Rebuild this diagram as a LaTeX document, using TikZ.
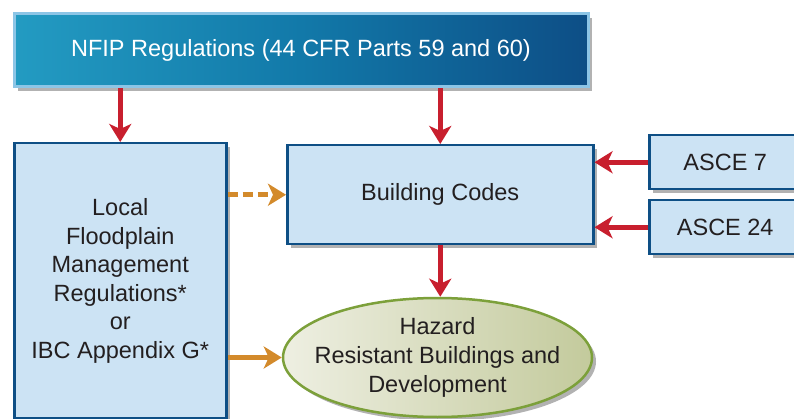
\documentclass[tikz,border=0pt]{standalone}
\usepackage{fontspec}
\setmainfont{Liberation Sans}
\usetikzlibrary{arrows.meta,shapes.geometric,shadows}
\definecolor{boxfill}{HTML}{CCE3F4}
\definecolor{boxline}{HTML}{0E4F85}
\definecolor{nfipline}{HTML}{8CC5E6}
\definecolor{nfipL}{HTML}{239BC2}
\definecolor{nfipM}{HTML}{1279A9}
\definecolor{nfipR}{HTML}{0D4E86}
\definecolor{ellL}{HTML}{EEEFE2}
\definecolor{ellR}{HTML}{C3CA9C}
\definecolor{ellline}{HTML}{7CA03A}
\definecolor{arrred}{HTML}{C81F2E}
\definecolor{arrorange}{HTML}{D38A2B}
\definecolor{txt}{HTML}{231F20}
\tikzset{
  shad/.style={drop shadow={shadow xshift=4pt, shadow yshift=-4pt, opacity=0.3, fill=black}},
  box/.style={draw=boxline, line width=2.5pt, fill=boxfill, text=txt,
    font=\fontsize{23.5}{28.5}\selectfont, align=center, inner sep=0pt, shad},
  redarrow/.style={draw=arrred, line width=5pt, -{Stealth[length=18pt,width=22pt,inset=5pt]}},
  orangearrow/.style={draw=arrorange, line width=5pt, -{Stealth[length=18pt,width=22pt,inset=5pt]}},
}
\begin{document}
\begin{tikzpicture}[x=1pt,y=-1pt]
\useasboundingbox (0,0) rectangle (794,419);
\node[draw=nfipline, line width=3pt, left color=nfipL, right color=nfipR, middle color=nfipM,
  text=white, font=\fontsize{23.5}{28}\selectfont, minimum width=574, minimum height=73,
  inner sep=0pt, shad] (nfip) at (301,50.5) {NFIP Regulations (44 CFR Parts 59 and 60)};
\node[box, minimum width=212, minimum height=275, anchor=north west] (local) at (13,142)
  {Local\\Floodplain\\Management\\Regulations*\\or\\IBC Appendix G*};
\node[box, minimum width=306, minimum height=99, anchor=north west] (bc) at (286,144) {Building Codes};
\node[box, minimum width=152, minimum height=54, anchor=north west] (a7) at (648,134) {ASCE 7};
\node[box, minimum width=152, minimum height=54, anchor=north west] (a24) at (648,199) {ASCE 24};
\node[ellipse, draw=ellline, line width=2.5pt, left color=ellL, right color=ellR,
  minimum width=309, minimum height=119, inner sep=0pt, shad] (haz) at (437.5,357.5) {};
\node[align=center, text=txt, inner sep=0pt, font=\fontsize{23.5}{29}\selectfont]
  (hazt) at (haz.center) {Hazard\\Resistant Buildings and\\Development};
\draw[redarrow] (local.north |- nfip.south) -- (local.north);
\draw[redarrow] (bc.north |- nfip.south) -- (bc.north);
\draw[redarrow] (a7.west) -- (a7.west -| bc.east);
\draw[redarrow] (a24.west) -- (a24.west -| bc.east);
\draw[redarrow] (bc.south) -- (bc.south |- haz.north);
\draw[orangearrow, dash pattern=on 10pt off 5pt] (local.east |- bc.west) -- (bc.west);
\draw[orangearrow] (local.east |- haz.west) -- (haz.west);
\end{tikzpicture}
\end{document}
